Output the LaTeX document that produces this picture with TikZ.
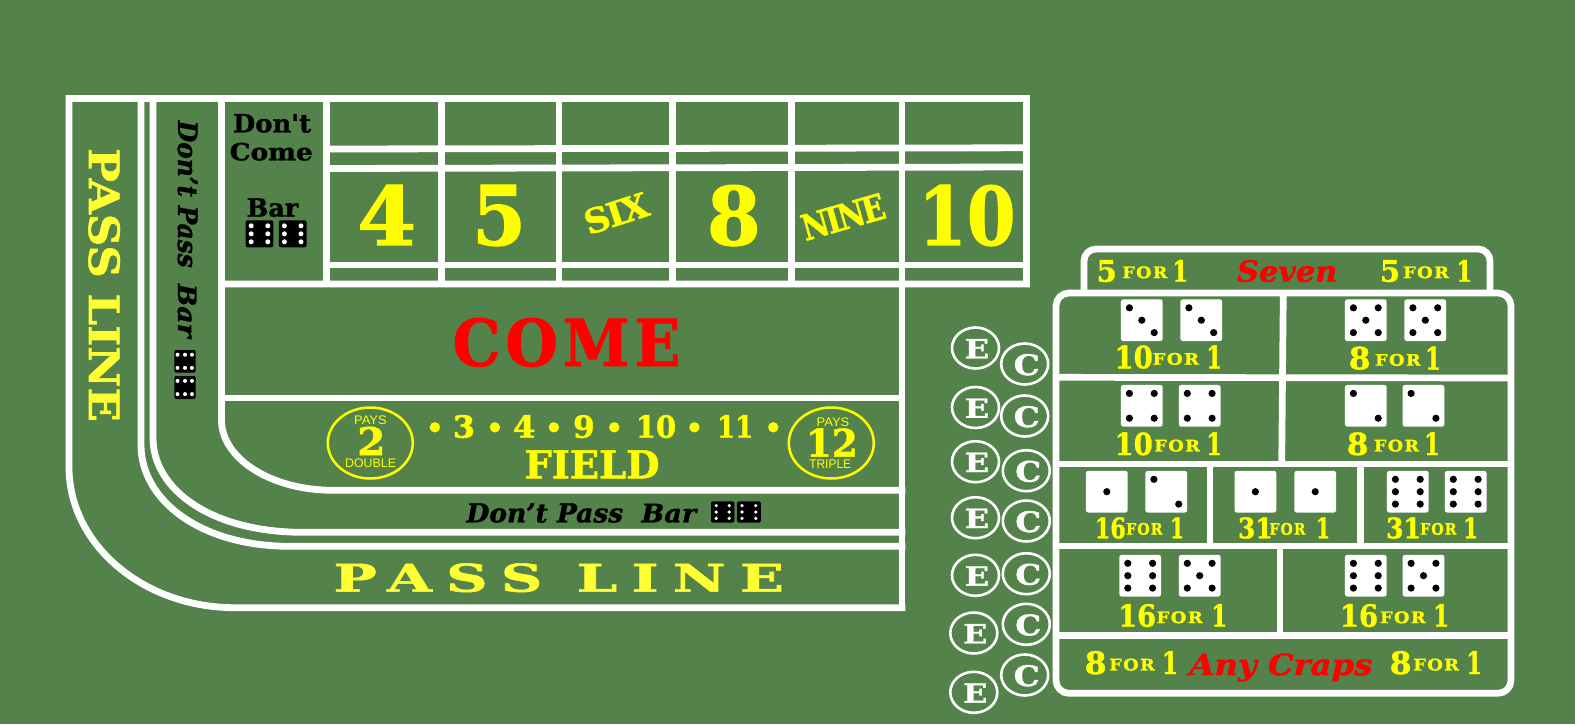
\documentclass[tikz,border=0pt]{standalone}
\usepackage{graphicx}
\usepackage{fontspec}
\newfontfamily\slab[BoldFeatures={FakeBold=1.3},BoldItalicFeatures={FakeBold=1.3}]{DejaVu Serif}
\newfontfamily\plain{Liberation Sans}
\definecolor{felt}{HTML}{53834A}
\definecolor{yel}{HTML}{FFFF00}
\definecolor{pale}{HTML}{FFFF33}
\definecolor{rd}{HTML}{FF0000}
\newcounter{lb}
% centre x, baseline y, width, height, colour, text
\newcommand\labc[7][]{\stepcounter{lb}\node[inner sep=0pt,outer sep=0pt,anchor=base,text=#6,#1] (lab\arabic{lb}) at (#2,#3) {\resizebox{#4pt}{#5pt}{\slab\bfseries\kern-.04em #7\kern-.04em}};}
% x min, x max, baseline y, height, colour, text
\newcommand\lab[7][]{\pgfmathsetmacro\lbw{(#3)-(#2)}\pgfmathsetmacro\lbc{((#3)+(#2))/2}\labc[#1]{\lbc}{#4}{\lbw}{#5}{#6}{#7}}
% thin sans text
\newcommand\thin[5]{\pgfmathsetmacro\lbw{(#2)-(#1)}\pgfmathsetmacro\lbc{((#2)+(#1))/2}\stepcounter{lb}\node[inner sep=0pt,outer sep=0pt,anchor=base,text=yel] (lab\arabic{lb}) at (\lbc,#3) {\resizebox{\lbw pt}{#4pt}{\plain #5}};}
% number x0 x1, FOR x0 x1, one x0 x1, base, height, number
\newcommand\pay[9]{\lab{#1}{#2}{#7}{#8}{yel}{#9}\payrest{#3}{#4}{#5}{#6}{#7}{#8}}
\newcommand\payrest[6]{\lab{#1}{#2}{#5-3.6}{11.8}{yel}{\addfontfeature{LetterSpace=8}FOR}\lab{#3}{#4}{#5}{#6}{yel}{1}}
% white die
\newcommand\pip[3]{\fill[black] ({#1+(#2)},{\dy+(#3)}) circle (3.6);}
\newcommand\die[3]{\def\dy{#2}\fill[white,rounded corners=2.5] ({#1-20.9},{#2-20.9}) rectangle ({#1+20.9},{#2+20.9});
 \ifcase#3\or
 \pip{#1}{0}{0}\or
 \pip{#1}{-12.4}{-12.4}\pip{#1}{12.4}{12.4}\or
 \pip{#1}{-12.4}{-12.4}\pip{#1}{0}{0}\pip{#1}{12.4}{12.4}\or
 \pip{#1}{-12.4}{-12.4}\pip{#1}{12.4}{12.4}\pip{#1}{12.4}{-12.4}\pip{#1}{-12.4}{12.4}\or
 \pip{#1}{-12.4}{-12.4}\pip{#1}{12.4}{12.4}\pip{#1}{12.4}{-12.4}\pip{#1}{-12.4}{12.4}\pip{#1}{0}{0}\or
 \pip{#1}{-12.4}{-12.4}\pip{#1}{12.4}{12.4}\pip{#1}{12.4}{-12.4}\pip{#1}{-12.4}{12.4}\pip{#1}{-12.4}{0}\pip{#1}{12.4}{0}\fi}
% black six: centre, half width, half height, x offsets, y offsets, r
\newcommand\blacksix[7]{\fill[black,rounded corners=2] ({#1-#3},{#2-#4}) rectangle ({#1+#3},{#2+#4});
 \foreach \px in {#5}{\foreach \py in {#6}{\fill[white] ({#1+\px},{#2+\py}) circle (#7);}}}
\newcommand\ringE[2]{\draw[chip] (#1,#2) ellipse (23.5 and 20.5);
 \lab{#1-9.5}{#1+12.2}{#2+10.3}{19.3}{white}{E}}
\newcommand\ringC[2]{\draw[chip] (#1,#2) ellipse (23.5 and 20.5);
 \lab{#1-9.7}{#1+13.6}{#2+11}{21}{white}{C}}
\tikzset{table/.style={draw=white,line width=6.8pt,line cap=rect,line join=miter},
 board/.style={draw=white,line width=6.7pt,line cap=butt},
 chip/.style={draw=white,line width=2.6pt},
 oval/.style={draw=yel,line width=2.5pt}}
\begin{document}
\begin{tikzpicture}[x=1pt,y=-1pt]
\useasboundingbox (0,0) rectangle (1575,724);
\fill[felt] (0,0) rectangle (1575,724);
% main table lines
\draw[table] (902,607.7) -- (235,607.7) .. controls (143.3,607.7) and (69,544.7) .. (69,467) -- (69,98.5) -- (1026.5,98.5) -- (1026.5,284) -- (221.5,284);
\draw[table] (902,546.3) -- (290,546.3) .. controls (200,546.3) and (141,500) .. (141,445) -- (141,98.5);
\draw[table] (902,532.3) -- (303,532.3) .. controls (212,532.3) and (153,490) .. (153,438) -- (153,98.5);
\draw[table] (902,490.3) -- (333,490.3) .. controls (271.4,490.3) and (221.5,458.8) .. (221.5,420) -- (221.5,98.5);
\draw[table] (221.5,398) -- (902,398);
\draw[table] (326.5,149) -- (1026.5,147.8);
\draw[table] (326.5,168.5) -- (1026.5,167);
\draw[table] (326.5,265) -- (1026.5,265);
\foreach \vx in {326.5,441.5,559,672.7,791.7}{\draw[table] (\vx,98.5) -- (\vx,284);}
\draw[table] (902,98.5) -- (902,607.7);
% place numbers
\lab{360.6}{413}{245}{60}{yel}{4}
\lab{475}{523}{245}{60}{yel}{5}
\lab{710}{757.7}{245}{60}{yel}{8}
\lab{921}{1012.7}{245}{60}{yel}{10}
\labc[rotate=18]{620}{225}{63}{25}{yel}{\addfontfeature{LetterSpace=-5}SIX}
\labc[rotate=16]{846.7}{229.3}{83}{26}{yel}{\addfontfeature{LetterSpace=-7}NINE}
% left column text
\labc[rotate=-90]{89}{285}{270}{31}{pale}{PASS LINE}
\labc[rotate=-90]{178}{194.2}{145}{19.5}{black}{\itshape Don’t Pass}
\labc[rotate=-90]{178}{310.8}{51.7}{18.5}{black}{\itshape Bar}
\blacksix{185}{361.3}{10.7}{11.3}{-7.5,0,7}{-6.6,6.6}{2}
\blacksix{185}{387.5}{10.7}{11.5}{-7.5,0,7}{-6.6,6.6}{2}
% don't come
\lab{234}{310}{132.3}{18.3}{black}{Don't}
\lab{230.7}{311.7}{160.3}{17.6}{black}{Come}
\lab{247.7}{297.3}{216.7}{18.4}{black}{Bar}
\blacksix{259.5}{233.8}{13.8}{13.5}{-8.3,8.3}{-8,0,8}{2.5}
\blacksix{292.7}{233.8}{13.8}{13.5}{-8.3,8.3}{-8,0,8}{2.5}
% come
\lab{455}{678}{366}{48}{rd}{\addfontfeature{LetterSpace=8}COME}
% field
\draw[oval] (370.3,443) ellipse (42.5 and 35.5);
\draw[oval] (831.3,443) ellipse (42.5 and 35.5);
\thin{354.1}{386.7}{424}{8.7}{PAYS}
\thin{345.2}{396}{467.7}{8.7}{DOUBLE}
\thin{816.7}{849.3}{426}{8.7}{PAYS}
\thin{809.3}{851.1}{468.7}{8.7}{TRIPLE}
\lab{358.9}{383.8}{455}{28.3}{yel}{2}
\lab{807.4}{856.3}{456.7}{28.3}{yel}{12}
\foreach \bx in {434.9,494.9,553.9,614.3,694.4,773.3}{\fill[yel] (\bx,427.3) circle (5.2);}
\lab{454.2}{473.8}{437.7}{22.7}{yel}{3}
\lab{514.2}{534.2}{437.7}{22.7}{yel}{4}
\lab{574.3}{593.5}{437.7}{22.7}{yel}{9}
\lab{636.9}{675}{437.7}{22.7}{yel}{10}
\lab{718.1}{752.2}{437.7}{22.7}{yel}{11}
\lab{526}{658}{478.3}{28}{yel}{FIELD}
% don't pass bar
\lab{467.5}{622.1}{522.3}{19}{black}{\itshape Don’t Pass}
\lab{642.5}{695.1}{522.3}{18.5}{black}{\itshape Bar}
\blacksix{722.7}{512}{11.7}{10.7}{-6.5,6.5}{-6.4,0,6.4}{1.8}
\blacksix{748.9}{512}{11.9}{10.7}{-6.9,6.9}{-6.4,0,6.4}{1.8}
% pass line
\lab{336}{781.5}{591.7}{28.4}{pale}{\addfontfeature{LetterSpace=25}PASS LINE}
% proposition board
\draw[board,rounded corners=12] (1084,293) -- (1084,249) -- (1490,249) -- (1490,293);
\draw[board,rounded corners=13] (1056,293) rectangle (1511,693.3);
\draw[board] (1056,377.3) -- (1511,378);
\draw[board] (1056,464) -- (1511,464);
\draw[board] (1056,546) -- (1511,546);
\draw[board] (1056,635.7) -- (1511,635.7);
\draw[board] (1283.3,293) -- (1281.7,464);
\draw[board] (1210,464) -- (1210,546);
\draw[board] (1360.7,464) -- (1360.7,546);
\draw[board] (1280,546) -- (1280,635.7);
% dice
\die{1141.8}{320.2}{3}\die{1201.3}{320.2}{3}
\die{1141.8}{405.8}{4}\die{1199.7}{405.8}{4}
\die{1365.8}{320.2}{5}\die{1425.3}{320.2}{5}
\die{1365.8}{405.8}{2}\die{1423.5}{405.8}{2}
\die{1106.8}{491.7}{1}\die{1166.3}{491.7}{2}
\die{1255.4}{491.7}{1}\die{1315.2}{491.7}{1}
\die{1407.8}{491.7}{6}\die{1465.7}{491.7}{6}
\die{1140.2}{575.7}{6}\die{1199.7}{575.7}{5}
\die{1365.8}{575.7}{6}\die{1423.5}{575.7}{5}
% payoffs
\pay{1097.7}{1115.7}{1123}{1166.7}{1173.3}{1187.3}{281.7}{21.7}{5}
\lab{1238.3}{1336}{281.7}{21.7}{rd}{\itshape Seven}
\pay{1381}{1399}{1403.7}{1448.3}{1457.3}{1471.3}{281.7}{21.7}{5}
\pay{1115.7}{1151.7}{1153.3}{1198.3}{1207.3}{1221}{368.3}{23}{10}
\pay{1350}{1369.3}{1375.7}{1420}{1426}{1440}{369.3}{22.7}{8}
\pay{1115.7}{1151.7}{1155}{1199.3}{1207.3}{1221}{455}{22.7}{10}
\pay{1348}{1367.3}{1374.7}{1418.3}{1425}{1439}{455}{22.7}{8}
\pay{1095.7}{1125}{1126.7}{1162}{1170.7}{1183.3}{538.3}{21}{16}
\pay{1239}{1271.7}{1270}{1305}{1316.7}{1329.3}{538.3}{21}{31}
\pay{1387}{1420}{1420.7}{1456}{1464}{1477.3}{538.3}{21}{31}
\pay{1119.3}{1155}{1157.3}{1202}{1212.3}{1226.3}{626.7}{22.7}{16}
\pay{1341}{1377}{1380.7}{1425}{1434}{1448.3}{626.7}{22.7}{16}
\pay{1086}{1105.3}{1110}{1154}{1162.7}{1177.3}{674}{23}{8}
\lab{1190.7}{1371}{675}{21.7}{rd}{\itshape Any Craps}
\pay{1391}{1410.3}{1414}{1458.3}{1467.3}{1481}{674}{23}{8}
% E and C
\ringE{975.5}{348}
\ringE{975.5}{407.5}
\ringE{975.5}{461.7}
\ringE{975.5}{517.7}
\ringE{975.5}{575.3}
\ringE{973.8}{633}
\ringE{973.8}{692.3}
\ringC{1024.7}{364}
\ringC{1024.7}{416}
\ringC{1026.3}{470.7}
\ringC{1026.3}{521}
\ringC{1026.3}{573.7}
\ringC{1026.3}{624.3}
\ringC{1024.7}{675}
\end{tikzpicture}
\end{document}
